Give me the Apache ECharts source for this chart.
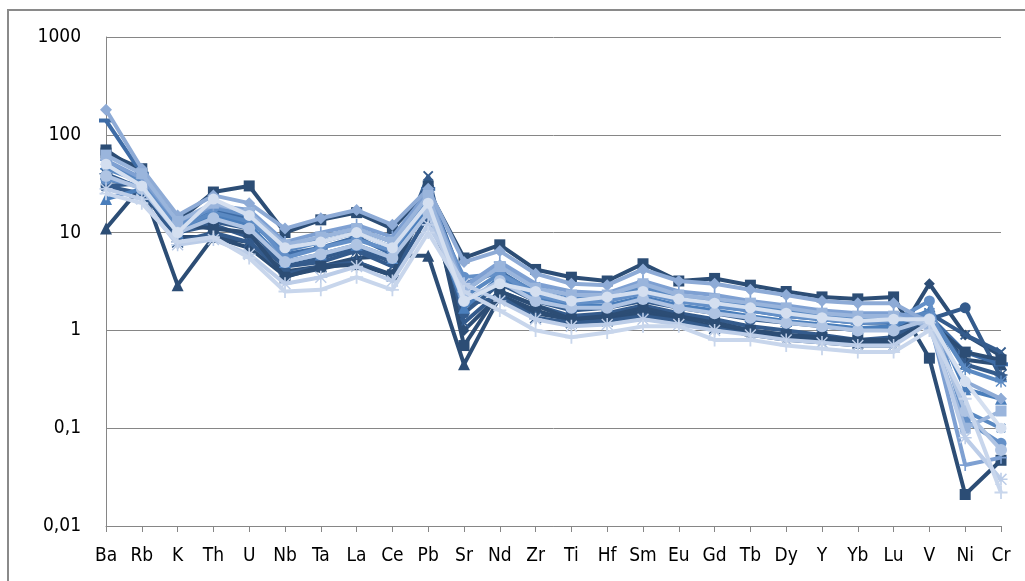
<!DOCTYPE html>
<html>
<head>
<meta charset="utf-8">
<script src="https://cdn.jsdelivr.net/npm/echarts@6/dist/echarts.min.js"></script>
<style>
html,body{margin:0;padding:0;background:#fff;}
#chart{width:1025px;height:581px;}
</style>
</head>
<body>
<div id="chart"></div>
<script>
// Categories (elements)
const categories = ['Ba','Rb','K','Th','U','Nb','Ta','La','Ce','Pb','Sr','Nd','Zr','Ti','Hf','Sm','Eu','Gd','Tb','Dy','Y','Yb','Lu','V','Ni','Cr'];
// Y axis tick labels
const yTickLabels = ['0,01','0,1','1','10','100','1000'];

// Series values (normalized concentrations)
const s1  = [35,30,9,9,7,3.6,4.3,5,3.7,22,1.0,2.3,1.6,1.25,1.3,1.5,1.3,1.1,0.95,0.85,0.8,0.72,0.75,3.0,0.9,0.55];
const s2  = [65,45,13,26,30,10,13.5,16,11,27,5.5,7.5,4.2,3.5,3.2,4.8,3.2,3.4,2.9,2.5,2.2,2.1,2.2,0.52,0.021,0.047];
const s3  = [11,30,2.9,9,8,4,4.5,5.5,5.8,5.8,0.45,2.2,1.5,1.3,1.4,1.6,1.4,1.2,1.0,0.9,0.85,0.75,0.8,1.3,0.5,0.45];
const s4  = [30,25,10,12,9,4.5,5,6.5,4.5,38,1.2,2.5,1.8,1.4,1.5,1.8,1.5,1.3,1.1,1.0,0.9,0.8,0.85,1.5,0.9,0.6];
const s5  = [40,28,8,10,8,3.8,4.5,5,3.6,15,1.8,2.2,1.35,1.2,1.25,1.4,1.25,1.05,0.9,0.8,0.75,0.7,0.7,1.4,0.45,0.35];
const s6  = [30,32,11,13,11,4.5,5.5,7,5.0,20,1.5,3.0,2.0,1.6,1.7,2.0,1.7,1.5,1.3,1.2,1.1,1.0,1.05,1.3,1.7,0.33];
const s7  = [140,40,12,17,14,6,7,9,6,28,3.0,4.0,2.4,2.0,2.0,2.6,2.0,1.8,1.6,1.4,1.3,1.2,1.2,1.4,0.6,0.45];
const s8  = [70,40,12,11,10,3.5,4.5,4.7,3.7,30,0.7,2.5,1.8,1.3,1.4,1.7,1.4,1.2,1.0,0.9,0.85,0.8,0.8,1.2,0.6,0.5];
const s9  = [22,28,10,15,12,5,6,7.5,5.5,18,1.7,3.5,2.2,1.8,1.8,2.2,1.8,1.6,1.4,1.25,1.15,1.05,1.1,1.6,0.25,0.2];
const s10 = [50,35,12,20,16,7,9,11,8,25,2.5,4.5,2.8,2.2,2.2,2.8,2.2,2.0,1.8,1.6,1.45,1.3,1.35,1.5,0.15,0.1];
const s11 = [45,33,11,16,13,6.5,8,10,7,22,2.2,3.8,2.5,2.0,2.0,2.5,2.0,1.8,1.6,1.45,1.3,1.2,1.25,1.5,0.4,0.3];
const s12 = [35,30,12,18,15,5.5,7,8.5,6.5,20,3.5,3.8,2.3,1.9,2.0,2.4,2.0,1.75,1.6,1.4,1.3,1.2,1.25,2.0,0.12,0.07];
const s13 = [55,36,13,19,17,8,10,12,9,26,2.8,5,3.0,2.5,2.4,3.2,2.5,2.3,2.0,1.8,1.6,1.5,1.5,1.3,0.042,0.05];
const s14 = [180,45,15,24,20,11,14,17,12,28,5,6.5,3.8,3.0,2.9,4.2,3.2,3.0,2.6,2.3,2.0,1.9,1.9,1.2,0.3,0.2];
const s15 = [62,40,13,20,16,7.5,9,11,8,24,2.5,4.5,2.7,2.3,2.3,3.0,2.3,2.1,1.9,1.7,1.5,1.4,1.4,1.1,0.1,0.15];
const s16 = [38,28,10,14,11,5,6,7.5,5.5,16,2.0,3.2,2.0,1.7,1.7,2.1,1.7,1.5,1.35,1.2,1.1,1.0,1.0,1.3,0.15,0.06];
const s17 = [28,22,7.5,8.5,6,3,3.5,4.5,3.2,12,3.0,2.0,1.3,1.1,1.15,1.3,1.15,1.0,0.9,0.8,0.75,0.7,0.7,1.2,0.08,0.03];
const s18 = [25,20,8,9,5.5,2.5,2.6,3.5,2.6,10,2.5,1.6,1.0,0.85,0.95,1.1,1.1,0.8,0.8,0.7,0.65,0.6,0.6,1.0,0.2,0.022];
const s19 = [50,30,10,22,15,7,8,10,7,20,2.0,3,2.5,2.0,2.2,2.5,2.1,1.9,1.7,1.5,1.35,1.25,1.3,1.3,0.3,0.1];

const seriesData = [s1,s2,s3,s4,s5,s6,s7,s8,s9,s10,s11,s12,s13,s14,s15,s16,s17,s18,s19];

const PLUS = 'path://M4.3,0h1.4v4.3h4.3v1.4h-4.3v4.3h-1.4v-4.3h-4.3v-1.4h4.3z';
const STAR = 'path://M4.4,0h1.2v10h-1.2z M0,4.4h10v1.2h-10z M1.2,0.4l8.4,8.4l-0.8,0.8l-8.4,-8.4z M8.8,0.4l0.8,0.8l-8.4,8.4l-0.8,-0.8z';
const DASH = 'path://M0,0h10v2.5h-10z';
const styles = [
  ['#2C4D75','diamond',11,0],
  ['#2C4D75','rect',11,0],
  ['#2C4D75','triangle',12,0],
  ['#345B8C',PLUS,13,45],
  ['#345B8C',STAR,13,0],
  ['#345B8C','circle',11,0],
  ['#3E6CA6',DASH,[14,4],0],
  ['#2C4D75','rect',11,0],
  ['#4A7EBB','triangle',12,0],
  ['#5A89C2',PLUS,12,45],
  ['#5A89C2',STAR,12,0],
  ['#6490C8','circle',11,0],
  ['#7EA0D2',PLUS,12,0],
  ['#8EABD6','diamond',12,0],
  ['#9AB5DC','rect',11,0],
  ['#AFC4E3','circle',12,0],
  ['#BCCDE8',STAR,13,0],
  ['#C8D6EC',PLUS,13,0],
  ['#D4DFF0','circle',11,0]
];

const series = seriesData.map((d, i) => ({
  name: 'S' + (i + 1),
  type: 'line',
  data: d,
  symbol: styles[i][1],
  symbolSize: styles[i][2],
  symbolRotate: styles[i][3],
  showAllSymbol: true,
  lineStyle: { color: styles[i][0], width: 4 },
  itemStyle: { color: styles[i][0] },
  emphasis: { disabled: true },
  z: 2 + i
}));

const chart = echarts.init(document.getElementById('chart'), null, { renderer: 'canvas' });
const FONT = "'DejaVu Sans Condensed','Liberation Sans Narrow',sans-serif";
chart.setOption({
  animation: false,
  backgroundColor: '#fff',
  grid: { left: 106, right: 24, top: 37, bottom: 55, containLabel: false },
  graphic: [{
    type: 'rect', shape: { x: 8, y: 10, width: 1100, height: 700 },
    style: { fill: 'none', stroke: '#8a8a8a', lineWidth: 2 }, silent: true, z: -1
  }],
  xAxis: {
    type: 'category',
    data: categories,
    boundaryGap: false,
    axisLine: { lineStyle: { color: '#868686', width: 1 } },
    axisTick: { show: true, interval: 0, length: 6, lineStyle: { color: '#868686' } },
    axisLabel: { interval: 0, color: '#000', fontFamily: FONT, fontSize: 19, margin: 21 },
    splitLine: { show: false }
  },
  yAxis: {
    type: 'log',
    logBase: 10,
    min: 0.01,
    max: 1000,
    axisLine: { show: true, lineStyle: { color: '#868686', width: 1 } },
    axisTick: { show: false },
    splitLine: { show: true, lineStyle: { color: '#868686', width: 1 } },
    axisLabel: {
      color: '#000', fontFamily: FONT, fontSize: 19, margin: 25,
      formatter: function (v) {
        const e = Math.round(Math.log10(v));
        return yTickLabels[e + 2];
      }
    }
  },
  series: series
});
</script>
</body>
</html>
